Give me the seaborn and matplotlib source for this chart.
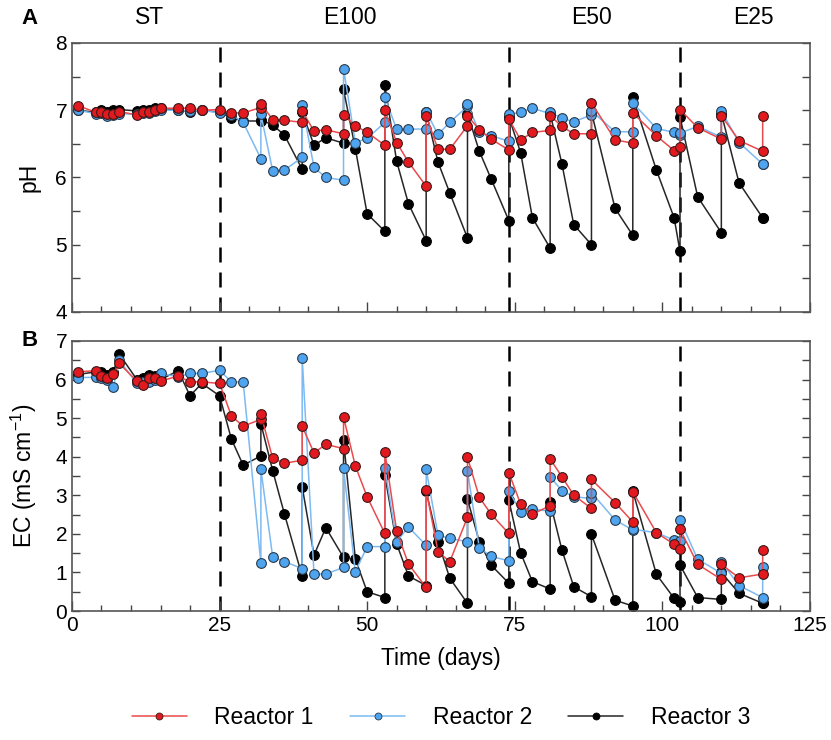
import pandas as pd
import matplotlib
matplotlib.use("Agg")
import matplotlib.pyplot as plt
from matplotlib.lines import Line2D
from matplotlib.ticker import MultipleLocator
import seaborn as sns

# sampling days (feeding days appear twice: before / after feeding)
days = [1, 4, 5, 6, 7, 8, 11, 12, 13, 14, 15, 18, 20, 22, 25,
        27, 29, 32, 32, 34, 36, 39, 39, 41, 43, 46, 46, 48, 50, 53, 53, 55, 57,
        60, 60, 62, 64, 67, 67, 69, 71,
        74, 74, 76, 78, 81, 81, 83, 85, 88, 88, 92, 95, 95, 99, 102,
        103, 103, 106, 110, 110, 113, 117, 117]

ph_r1 = [7.07, 6.97, 6.98, 6.94, 6.95, 6.98, 6.93, 6.97, 6.97, 7.01, 7.03, 7.03, 7.03, 7.00, 7.01,
         6.96, 6.96, 7.04, 7.10, 6.86, 6.85, 6.82, 6.99, 6.69, 6.71, 6.65, 6.93, 6.77, 6.67,
         6.48, 7.00, 6.52, 6.23, 5.87, 6.92, 6.42, 6.42, 6.77, 6.92, 6.71, 6.57,
         6.41, 6.87, 6.56, 6.67, 6.70, 6.92, 6.76, 6.65, 6.65, 7.11, 6.56, 6.51, 6.96, 6.62, 6.40,
         6.45, 7.01, 6.74, 6.57, 6.92, 6.55, 6.39, 6.92]
ph_r2 = [7.00, 6.95, 6.96, 6.92, 6.93, 6.95, 6.94, 6.96, 6.96, 6.99, 7.00, 7.00, 6.99, 7.00, 6.96,
         6.93, 6.82, 6.28, 6.94, 6.10, 6.11, 6.30, 7.08, 6.15, 6.00, 5.96, 7.62, 6.52, 6.58,
         6.82, 7.19, 6.72, 6.72, 6.72, 6.98, 6.64, 6.82, 7.06, 7.10, 6.67, 6.62,
         6.54, 6.94, 6.97, 7.03, 6.95, 6.97, 6.88, 6.83, 6.93, 6.99, 6.68, 6.68, 7.11, 6.73, 6.67,
         6.63, 6.66, 6.76, 6.60, 6.99, 6.52, 6.20, 6.20]
ph_r3 = [7.00, 6.97, 7.00, 6.97, 7.01, 7.01, 6.99, 7.01, 7.00, 7.04, 7.03, 7.00, 6.98, 7.00, 6.97,
         6.89, 6.84, 6.84, 6.86, 6.78, 6.63, 6.12, 6.97, 6.48, 6.59, 6.51, 7.31, 6.43, 5.46,
         5.20, 7.37, 6.24, 5.61, 5.06, 6.97, 6.23, 5.77, 5.10, 6.95, 6.39, 5.98,
         5.36, 6.90, 6.37, 5.40, 4.95, 6.95, 6.20, 5.30, 5.00, 6.97, 5.54, 5.14, 7.19, 6.11, 5.40,
         4.90, 6.90, 5.71, 5.18, 6.95, 5.92, 5.40, 5.40]

ec_r1 = [6.20, 6.23, 6.09, 6.03, 6.15, 6.42, 5.96, 5.87, 6.05, 6.05, 5.96, 6.09, 5.94, 5.94, 5.90,
         5.06, 4.79, 4.97, 5.10, 3.96, 3.83, 3.91, 4.79, 4.10, 4.32, 4.21, 5.03, 3.76, 2.96,
         2.01, 4.13, 2.07, 1.22, 0.61, 3.15, 1.54, 1.28, 2.43, 3.98, 2.95, 2.51,
         2.01, 3.59, 2.77, 2.51, 2.73, 3.94, 3.48, 3.00, 2.66, 3.41, 2.81, 2.31, 3.09, 2.03, 1.73,
         1.62, 2.12, 1.21, 0.82, 1.21, 0.86, 0.96, 1.58]
ec_r2 = [6.05, 6.06, 6.03, 6.00, 5.80, 6.50, 5.90, 5.93, 5.93, 6.00, 6.16, 6.07, 6.16, 6.16, 6.24,
         5.94, 5.94, 1.24, 3.68, 1.40, 1.28, 1.10, 6.57, 0.96, 0.96, 1.13, 3.70, 1.02, 1.67,
         1.67, 3.72, 1.80, 2.18, 1.70, 3.67, 1.97, 1.88, 1.80, 3.63, 1.64, 1.42,
         1.30, 3.12, 2.57, 2.64, 2.59, 3.48, 3.12, 2.96, 2.92, 3.07, 2.36, 2.10, 2.12, 2.03, 1.84,
         1.82, 2.36, 1.34, 0.98, 1.28, 0.66, 0.35, 1.15]
ec_r3 = [6.13, 6.20, 6.20, 6.13, 6.20, 6.66, 6.00, 6.03, 6.13, 6.08, 6.00, 6.23, 5.58, 5.90, 5.58,
         4.46, 3.78, 4.02, 4.86, 3.64, 2.51, 0.90, 3.22, 1.45, 2.16, 1.39, 4.43, 1.35, 0.50,
         0.35, 3.52, 1.74, 0.91, 0.66, 3.10, 1.80, 0.85, 0.20, 2.90, 1.80, 1.19,
         0.72, 2.88, 1.51, 0.76, 0.57, 2.82, 1.58, 0.63, 0.37, 1.99, 0.28, 0.13, 3.11, 0.95, 0.33,
         0.24, 1.19, 0.35, 0.30, 1.00, 0.46, 0.20, 0.20]

reactors = ["Reactor 1", "Reactor 2", "Reactor 3"]
phase_names = ["ST", "E100", "E50", "E25"]
phase_label_x = [13.2, 47, 88, 115.4]
phase_bounds = [25, 74, 103]

df = pd.concat([
    pd.DataFrame({"reactor": r, "day": days, "pH": ph, "EC": ec, "order": range(len(days))})
    for r, ph, ec in zip(reactors, [ph_r1, ph_r2, ph_r3], [ec_r1, ec_r2, ec_r3])
])

styles = {
    "Reactor 1": dict(line="#ea4a4d", face="#e2191e", edge="#3a1a1a"),
    "Reactor 2": dict(line="#7dbaf2", face="#4ea4ee", edge="#2a3a4a"),
    "Reactor 3": dict(line="#262626", face="#000000", edge="#000000"),
}
draw_order = ["Reactor 3", "Reactor 2", "Reactor 1"]

sns.set_theme(style="ticks")
plt.rcParams["font.family"] = ["Liberation Sans", "DejaVu Sans"]
plt.rcParams["mathtext.fontset"] = "custom"
plt.rcParams["mathtext.rm"] = "Liberation Sans"
plt.rcParams["text.color"] = "black"
plt.rcParams["axes.labelcolor"] = "black"
plt.rcParams["xtick.labelcolor"] = "black"
plt.rcParams["ytick.labelcolor"] = "black"

fig = plt.figure(figsize=(8.31, 7.40), dpi=100)
ax1 = fig.add_axes([0.0866, 0.5784, 0.888, 0.3635])
ax2 = fig.add_axes([0.0866, 0.1743, 0.888, 0.3649])

for ax, col in [(ax1, "pH"), (ax2, "EC")]:
    for r in draw_order:
        st = styles[r]
        sub = df[df["reactor"] == r].sort_values("order")
        sns.lineplot(data=sub, x="day", y=col, ax=ax, sort=False, estimator=None,
                     errorbar=None, color=st["line"], linewidth=1.1, marker="o",
                     markersize=7, markerfacecolor=st["face"],
                     markeredgecolor=st["edge"], markeredgewidth=0.8, legend=False)
    for b in phase_bounds:
        ax.axvline(b, color="black", linestyle=(0, (6, 4)), linewidth=1.8, zorder=0)
    ax.set_xlim(0, 125)
    ax.xaxis.set_major_locator(MultipleLocator(25))
    ax.xaxis.set_minor_locator(MultipleLocator(5))
    ax.yaxis.set_major_locator(MultipleLocator(1))
    ax.yaxis.set_minor_locator(MultipleLocator(0.5))
    ax.tick_params(axis="both", which="both", direction="in", labelsize=15,
                   color="#444444", width=1.0, top=False, right=True)
    ax.tick_params(axis="x", which="major", length=7)
    ax.tick_params(axis="x", which="minor", length=4)
    ax.tick_params(axis="y", which="both", length=6)
    for sp in ax.spines.values():
        sp.set_color("#555555")
        sp.set_linewidth(1.2)

ax1.set_ylim(4, 8)
ax1.set_xticklabels([])
ax1.set_xlabel("")
ax1.set_ylabel("pH", fontsize=16.5, labelpad=11)
ax2.set_ylim(0, 7)
ax2.set_xlabel("Time (days)", fontsize=16.5, labelpad=9)
ax2.set_ylabel("EC (mS cm$^{-1}$)", fontsize=16.5, labelpad=12)

for name, xp in zip(phase_names, phase_label_x):
    ax1.text(xp, 1.093, name, transform=ax1.get_xaxis_transform(),
             ha="center", va="center", fontsize=16.5)

fig.text(30 / 831, 1 - 18 / 740, "A", fontsize=16, fontweight="bold", ha="center", va="center")
fig.text(30 / 831, 1 - 340 / 740, "B", fontsize=16, fontweight="bold", ha="center", va="center")

handles = [Line2D([0], [0], color=styles[r]["line"], linewidth=1.1, marker="o",
                  markersize=5, markerfacecolor=styles[r]["face"],
                  markeredgecolor=styles[r]["edge"], markeredgewidth=0.6)
           for r in reactors]
fig.legend(handles, reactors, loc="center", bbox_to_anchor=(0.5306, 0.03), ncol=3,
           frameon=False, fontsize=16.5, handlelength=2.4, handletextpad=1.2,
           columnspacing=1.6)

fig.savefig("out.png", dpi=100)
